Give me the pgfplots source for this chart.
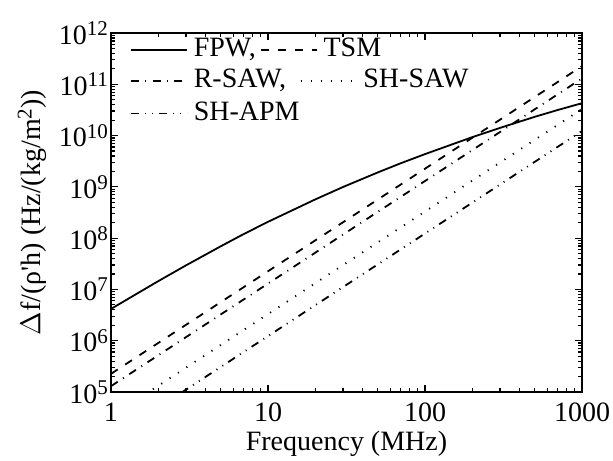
\documentclass[border=0pt]{standalone}
\usepackage{fontspec}
\setmainfont{Liberation Serif}
\usepackage{pgfplots}
\pgfplotsset{compat=1.18}

\newcommand{\fs}{\fontsize{14}{17}\selectfont}
\newcommand{\ex}[1]{\raisebox{4.4pt}{\fontsize{10.5}{11}\selectfont #1}}

\tikzset{
  tsm/.style={dash pattern=on 4pt off 4.5pt},
  rsaw/.style={dash pattern=on 4pt off 3.2pt on 0.5pt off 3.2pt},
  shsaw/.style={dash pattern=on 0.6pt off 4.4pt},
  shapm/.style={dash pattern=on 4pt off 3pt on 0.5pt off 3pt on 0.5pt off 3pt},
}

\begin{document}
\begin{tikzpicture}
\begin{axis}[
  width=235.5pt, height=179.5pt, scale only axis,
  xmode=log, ymode=log,
  xmin=1, xmax=1000, ymin=1e5, ymax=1e12,
  xtick={1,10,100,1000}, xticklabels={1,10,100,1000},
  minor xtick={2,3,4,5,6,7,8,9,20,30,40,50,60,70,80,90,200,300,400,500,600,700,800,900},
  ytick={1e5,1e6,1e7,1e8,1e9,1e10,1e11,1e12},
  yticklabels={10\ex{5},10\ex{6},10\ex{7},10\ex{8},10\ex{9},10\ex{10},10\ex{11},10\ex{12}},
  minor ytick={2e5,3e5,4e5,5e5,6e5,7e5,8e5,9e5,
               2e6,3e6,4e6,5e6,6e6,7e6,8e6,9e6,
               2e7,3e7,4e7,5e7,6e7,7e7,8e7,9e7,
               2e8,3e8,4e8,5e8,6e8,7e8,8e8,9e8,
               2e9,3e9,4e9,5e9,6e9,7e9,8e9,9e9,
               2e10,3e10,4e10,5e10,6e10,7e10,8e10,9e10,
               2e11,3e11,4e11,5e11,6e11,7e11,8e11,9e11},
  tick align=inside, xtick pos=both, ytick pos=both,
  major tick length=3.5pt, minor tick length=2pt,
  every tick/.style={black, line width=0.6pt},
  axis line style={line width=0.8pt},
  tick label style={font=\fs},
  xticklabel style={anchor=base, yshift=-14.8pt},
  yticklabel style={xshift=2pt},
  xlabel={Frequency (MHz)},
  ylabel={$\Delta$f/(ρ\textquotesingle h) (Hz/(kg/m\ex{2}))},
  label style={font=\fs},
  xlabel style={at={(rel axis cs:0.5,0)}, anchor=base, yshift=-29.5pt},
  ylabel style={at={(rel axis cs:0,0.5)}, anchor=center, yshift=39.5pt},
  legend image code/.code={\draw[#1] (0pt,0pt) -- (28pt,0pt);},
  legend cell align=left,
  legend columns=2,
  legend style={draw=none, fill=none, inner sep=0pt, outer sep=0pt,
    at={(rel axis cs:0,1)}, anchor=west, xshift=9.5pt, yshift=-8.5pt,
    font=\fs, nodes={inner sep=0pt, text height=0.85em, text depth=0.2em},
    /tikz/every odd column/.append style={column sep=3pt},
    /tikz/every even column/.append style={column sep=2pt}},
]
\coordinate (sw) at (rel axis cs:0,0);
\coordinate (ne) at (rel axis cs:1,1);
% FPW
\addplot[black, line width=0.9pt] coordinates {
  (1,4.17e6) (2,1.45e7) (3,2.94e7) (5,6.93e7) (7,1.20e8) (10,2.08e8)
  (20,5.69e8) (30,9.91e8) (50,1.91e9) (70,2.88e9) (100,4.35e9)
  (200,9.31e9) (300,1.41e10) (500,2.32e10) (700,3.15e10) (1000,4.28e10)
};
% TSM
\addplot[black, line width=0.9pt, tsm] coordinates {
  (1,2.26e5) (10,2.26e7) (100,2.26e9) (1000,2.26e11)
};
% R-SAW
\addplot[black, line width=0.9pt, rsaw] coordinates {
  (1,1.3e5) (10,1.3e7) (100,1.3e9) (1000,1.3e11)
};
% SH-SAW
\addplot[black, line width=0.9pt, shsaw] coordinates {
  (1,3.3e4) (10,3.3e6) (100,3.3e8) (1000,3.3e10)
};
% SH-APM
\addplot[black, line width=0.9pt, shapm] coordinates {
  (1,1.23e4) (10,1.23e6) (100,1.23e8) (1000,1.23e10)
};
\legend{{FPW,},TSM}
\end{axis}

\begin{axis}[
  width=235.5pt, height=179.5pt, scale only axis, hide axis,
  xmin=1, xmax=1000, ymin=0, ymax=1,
  legend image code/.code={\draw[#1] (0pt,0pt) -- (28pt,0pt);},
  legend cell align=left,
  legend columns=2,
  legend style={draw=none, fill=none, inner sep=0pt, outer sep=0pt,
    at={(rel axis cs:0,1)}, anchor=west, xshift=9.5pt, yshift=-32.25pt,
    font=\fs, row sep=5.6pt,
    nodes={inner sep=0pt, text height=0.85em, text depth=0.2em},
    /tikz/every odd column/.append style={column sep=3pt},
    /tikz/every even column/.append style={column sep=0pt}},
]
\addlegendimage{black, line width=0.9pt, rsaw}
\addlegendimage{black, line width=0.9pt, shsaw}
\addlegendimage{black, line width=0.9pt, shapm}
\legend{{R-SAW,},SH-SAW,SH-APM}
\end{axis}

\pgfresetboundingbox
\path ([xshift=-55.5pt,yshift=-34.5pt]sw) rectangle ([xshift=15.5pt,yshift=16.5pt]ne);
\end{tikzpicture}
\end{document}
